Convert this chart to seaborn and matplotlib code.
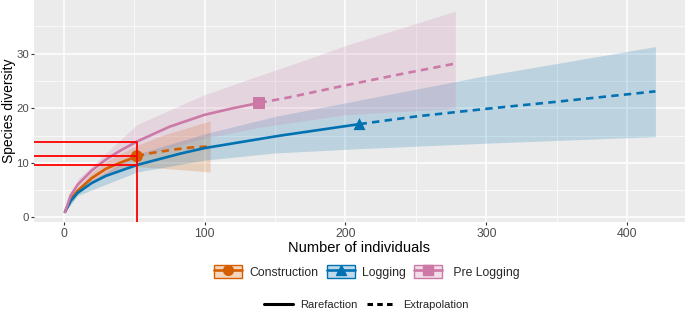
import numpy as np
import pandas as pd
import matplotlib
matplotlib.use("Agg")
import matplotlib.pyplot as plt
from matplotlib.lines import Line2D
from matplotlib.patches import Patch
from matplotlib.legend_handler import HandlerTuple
from matplotlib.colors import to_rgba
import seaborn as sns

# values
sites = ["Construction", "Logging", "Pre Logging"]
colors = {"Construction": "#D55E00", "Logging": "#0072B2", "Pre Logging": "#CC79A7"}
markers = {"Construction": "o", "Logging": "^", "Pre Logging": "s"}

# rarefaction / extrapolation curves (n, species) and their 95% bands
con_rare_n = [1, 5, 10, 20, 30, 40, 52]
con_rare_s = [1, 3.4, 4.9, 7.2, 8.9, 10.0, 11.2]
con_extra_n = [52, 60, 70, 80, 90, 104]
con_extra_s = [11.2, 11.7, 12.1, 12.5, 12.8, 13.0]
con_ci_n = [1, 10, 20, 30, 40, 52, 70, 90, 104]
con_lo = [1, 4.3, 6.3, 7.7, 8.6, 9.3, 9.0, 8.6, 8.3]
con_hi = [1, 5.5, 8.2, 10.2, 11.6, 13.2, 15.0, 16.6, 17.7]

log_rare_n = [1, 5, 10, 20, 30, 52, 83, 100, 154, 210]
log_rare_s = [1, 3.0, 4.5, 6.3, 7.6, 9.6, 11.7, 12.7, 15.0, 17.1]
log_extra_n = [210, 250, 300, 350, 420]
log_extra_s = [17.1, 18.5, 19.9, 21.2, 23.1]
log_ci_n = [1, 10, 52, 100, 150, 210, 300, 420]
log_lo = [1, 4.0, 8.3, 10.5, 11.8, 12.6, 13.6, 14.8]
log_hi = [1, 5.3, 11.6, 15.3, 18.5, 21.5, 26.0, 31.3]

pre_rare_n = [1, 5, 10, 20, 30, 40, 52, 75, 100, 120, 139]
pre_rare_s = [1, 4.0, 6.0, 8.6, 10.6, 12.2, 13.9, 16.6, 18.8, 20.0, 21.0]
pre_extra_n = [139, 160, 200, 240, 278]
pre_extra_s = [21.0, 22.0, 24.2, 26.3, 28.2]
pre_ci_n = [1, 10, 52, 100, 139, 173, 200, 278]
pre_lo = [1, 5.0, 11.0, 14.5, 16.5, 17.8, 18.8, 20.0]
pre_hi = [1, 7.0, 17.0, 22.5, 26.0, 29.0, 31.5, 37.8]

obs_n = [52, 210, 139]
obs_s = [11.2, 17.1, 21.0]

# red guide lines
guide_n = 52
guide_s = [13.9, 11.2, 9.6]

rows = []
curves = {
    "Construction": (con_rare_n, con_rare_s, con_extra_n, con_extra_s),
    "Logging": (log_rare_n, log_rare_s, log_extra_n, log_extra_s),
    "Pre Logging": (pre_rare_n, pre_rare_s, pre_extra_n, pre_extra_s),
}
for site, (rn, rs, en, es) in curves.items():
    for n, s in zip(rn, rs):
        rows.append((site, "Rarefaction", n, s))
    for n, s in zip(en, es):
        rows.append((site, "Extrapolation", n, s))
df = pd.DataFrame(rows, columns=["site", "method", "n", "species"])
obs = pd.DataFrame({"site": sites, "n": obs_n, "species": obs_s})
ci = {
    "Construction": (con_ci_n, con_lo, con_hi),
    "Logging": (log_ci_n, log_lo, log_hi),
    "Pre Logging": (pre_ci_n, pre_lo, pre_hi),
}

sns.set_theme(style="darkgrid", rc={
    "axes.facecolor": "#EBEBEB", "grid.color": "white",
    "xtick.bottom": True, "ytick.left": True,
})
plt.rcParams["font.family"] = ["Liberation Sans", "DejaVu Sans"]

fig = plt.figure(figsize=(6.85, 3.14), dpi=100)
ax = fig.add_axes([34 / 685, 1 - 222 / 314, 651 / 685, 222 / 314])

for site in sites:
    xn, lo, hi = ci[site]
    ax.fill_between(xn, lo, hi, color=colors[site], alpha=0.2, lw=0, zorder=1)

sns.lineplot(data=df, x="n", y="species", hue="site", style="method",
             palette=colors, dashes={"Rarefaction": "", "Extrapolation": (2.8, 2.0)},
             linewidth=1.9, sort=False, estimator=None, legend=False, ax=ax, zorder=3)
sns.scatterplot(data=obs, x="n", y="species", hue="site", style="site",
                palette=colors, markers=markers, s=75, linewidth=0,
                legend=False, ax=ax, zorder=4)

ax.hlines(guide_s, -21, guide_n, color="#FF0000", lw=1.3, zorder=5)
ax.vlines(guide_n, -0.85, max(guide_s), color="#FF0000", lw=1.3, zorder=5)

ax.set_xlim(-21, 441)
ax.set_ylim(-0.85, 39.85)
ax.set_xticks([0, 100, 200, 300, 400])
ax.set_xticks([50, 150, 250, 350], minor=True)
ax.set_yticks([0, 10, 20, 30])
ax.set_yticks([5, 15, 25, 35], minor=True)
ax.grid(which="major", color="white", lw=1.1)
ax.grid(which="minor", color="white", lw=0.5)
ax.tick_params(axis="both", which="major", labelsize=8.7, labelcolor="#4D4D4D",
               color="#333333", length=2.5, width=0.8, pad=1.5)
ax.tick_params(axis="y", which="major", labelsize=8.2, pad=1)
ax.tick_params(which="minor", length=0)
for sp in ax.spines.values():
    sp.set_visible(False)
ax.set_xlabel("Number of individuals", fontsize=10.5, labelpad=1, color="black")
ax.set_ylabel("Species diversity", fontsize=10, color="black")
ax.yaxis.set_label_coords(-0.028, 0.5)

# legends
h1 = []
for site in sites:
    box = Patch(facecolor=to_rgba(colors[site], 0.25), edgecolor=colors[site], lw=1)
    ln = Line2D([], [], color=colors[site], lw=1.9, marker=markers[site], markersize=7)
    h1.append((box, ln))
fig.legend(h1, ["Construction", "Logging", " Pre Logging"],
           handler_map={tuple: HandlerTuple(ndivide=1, pad=0)},
           loc="center", bbox_to_anchor=(0.535, 0.134), ncol=3, frameon=False,
           fontsize=8.8, handlelength=2.3, handleheight=1.3, handletextpad=0.6,
           columnspacing=0.7)
h2 = [Line2D([], [], color="black", lw=2.2),
      Line2D([], [], color="black", lw=2.2, dashes=(1.8, 1.4))]
fig.legend(h2, ["Rarefaction", "Extrapolation"], loc="center",
           bbox_to_anchor=(0.535, 0.029), ncol=2, frameon=False, fontsize=8,
           handlelength=2.6, handletextpad=0.7, columnspacing=0.8)

fig.savefig("out.png", dpi=100)
